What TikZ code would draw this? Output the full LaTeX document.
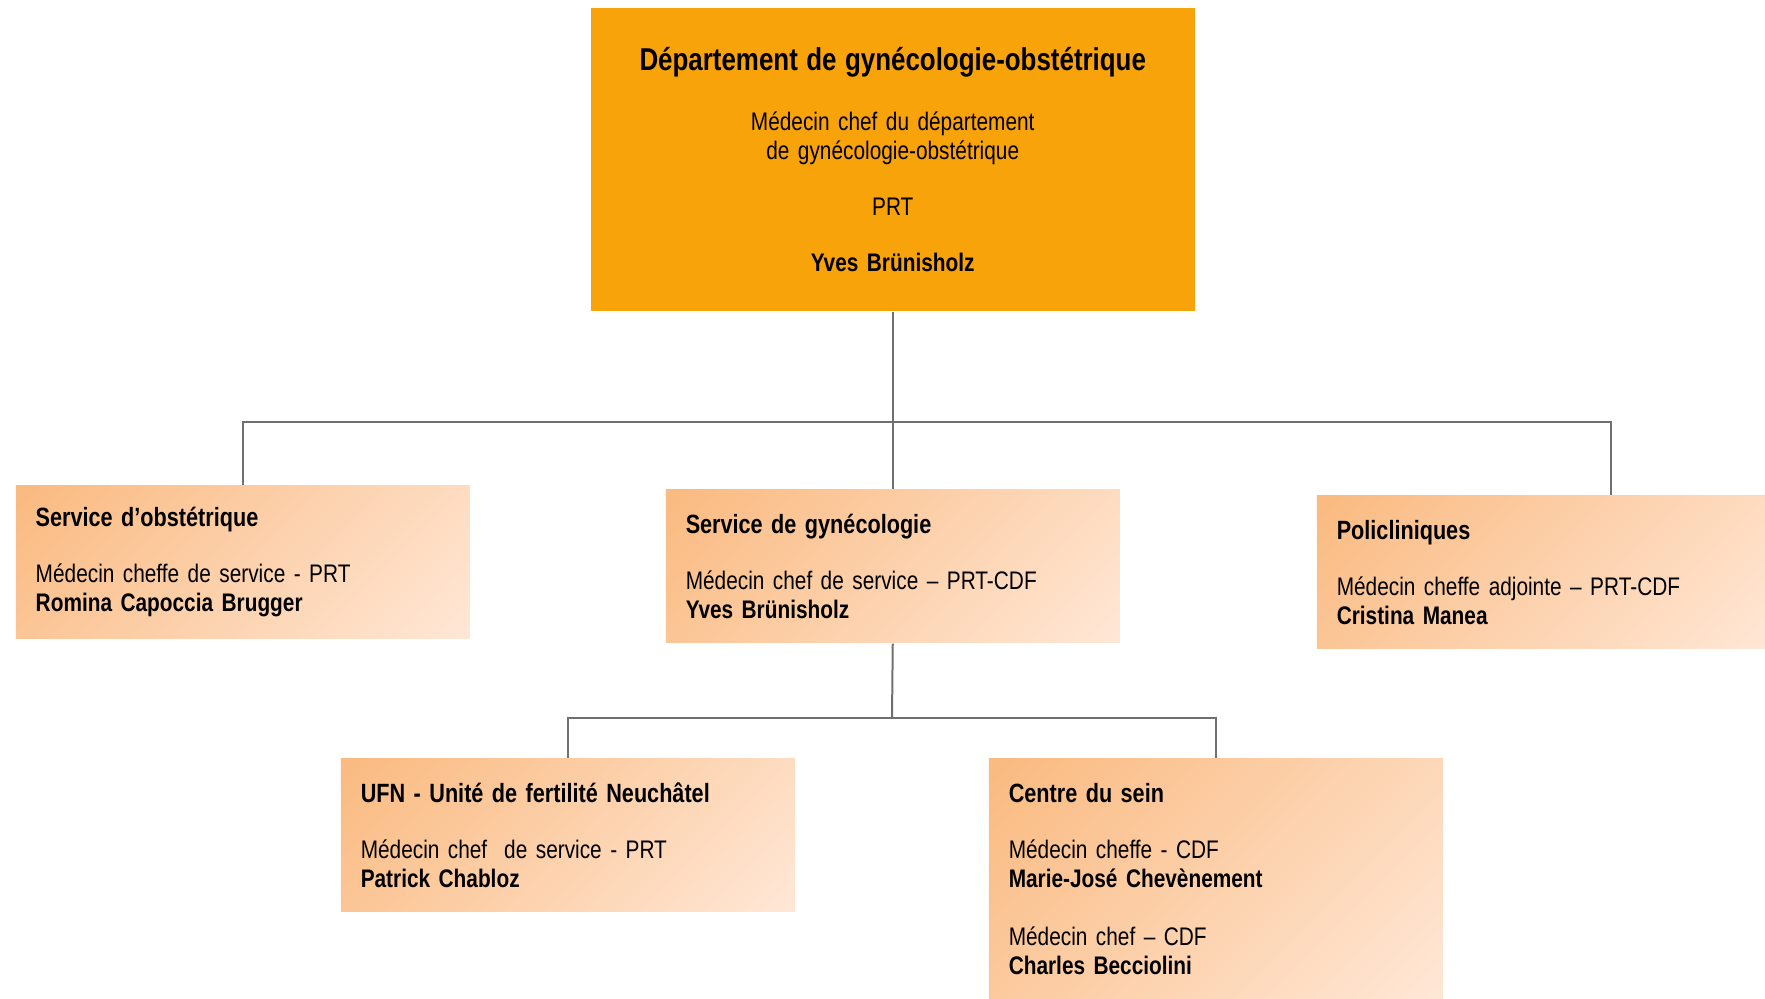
\documentclass[tikz,border=0pt]{standalone}
\usepackage{fontspec}
\setmainfont[FakeStretch=0.82]{Liberation Sans}
\definecolor{deptorange}{RGB}{249,163,10}
\definecolor{boxdark}{RGB}{250,186,128}
\definecolor{boxlight}{RGB}{255,231,214}
\definecolor{linkgray}{RGB}{112,112,112}
\pgfdeclareverticalshading{unitshade}{100bp}{color(0bp)=(boxlight); color(15bp)=(boxlight); color(85bp)=(boxdark); color(100bp)=(boxdark)}

\tikzset{every picture/.style={line width=0.75pt}}
\tikzset{
  deptbox/.style={rectangle, anchor=north west, fill=deptorange, inner sep=0pt,
    minimum width=302pt, minimum height=151.5pt, text width=290pt, align=center,
    font=\fontsize{12.7}{14.5}\selectfont},
  unitbox/.style={rectangle, anchor=north west, shading=unitshade, shading angle=45,
    inner xsep=10pt, inner ysep=0pt, text width=207pt,
    minimum height=76.5pt, align=left, font=\fontsize{12.7}{14.5}\selectfont},
  unittitle/.style={font=\fontsize{13}{14.5}\selectfont\bfseries},
  link/.style={draw=linkgray, line width=1pt}
}
\newcommand{\utitle}[1]{{\fontsize{13.2}{14.5}\selectfont\bfseries #1}}

\begin{document}
\begin{tikzpicture}[x=0.5pt,y=0.5pt,yscale=-1,xscale=1]
\useasboundingbox (0,0) rectangle (1765,998);

% Department
\node [deptbox] (dept) at (590,7) {{\fontsize{15.8}{14.5}\selectfont\bfseries Département de gynécologie-obstétrique}\\[15.5pt]
Médecin chef du département\\de gynécologie-obstétrique\\[13.5pt]PRT\\[13.5pt]\textbf{Yves Brünisholz}};

% Services
\node [unitbox] (obst) at (15,485) {\utitle{Service d’obstétrique}\\[13.5pt]
Médecin cheffe de service - PRT\\\textbf{Romina Capoccia Brugger}};
\node [unitbox] (gyne) at (665,489) {\utitle{Service de gynécologie}\\[13.5pt]
Médecin chef de service – PRT-CDF\\\textbf{Yves Brünisholz}};
\node [unitbox] (poli) at (1316,495) {\utitle{Policliniques}\\[13.5pt]
Médecin cheffe adjointe – PRT-CDF\\\textbf{Cristina Manea}};

% Units
\node [unitbox] (ufn) at (340,758) {\utitle{UFN - Unité de fertilité Neuchâtel}\\[13.5pt]
Médecin chef~ de service - PRT\\\textbf{Patrick Chabloz}};
\node [unitbox, minimum height=120pt] (sein) at (988,758) {\utitle{Centre du sein}\\[13.5pt]
Médecin cheffe - CDF\\\textbf{Marie-José Chevènement}\\[14.5pt]
Médecin chef – CDF\\\textbf{Charles Becciolini}};

% Connectors
\coordinate (bar1) at (892,422);
\coordinate (politop) at (1611,495);
\draw [link] (dept.south) -- (gyne.north);
\draw [link] (obst.north) |- (bar1) -| (politop);

\coordinate (bar2) at (892,718);
\draw [link] (gyne.south) -- (bar2);
\draw [link] (ufn.north) |- (bar2) -| (sein.north);

\end{tikzpicture}
\end{document}
